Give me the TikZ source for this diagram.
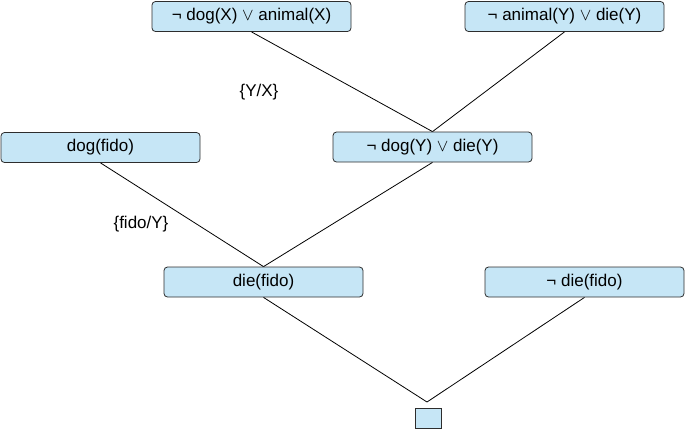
\documentclass[tikz,border=0pt]{standalone}
\usepackage{fontspec}
\setmainfont{Liberation Sans}
\definecolor{boxfill}{RGB}{198,230,246}
\definecolor{boxline}{RGB}{45,45,45}
\begin{document}
\begin{tikzpicture}[x=1pt,y=-1pt,
  clause/.style={draw=boxline,fill=boxfill,rounded corners=3.5pt,line width=0.8pt,
    minimum width=199pt,minimum height=30pt,inner sep=0pt,font=\fontsize{17}{19}\selectfont},
  empty/.style={draw=boxline,fill=boxfill,line width=0.8pt,minimum width=26pt,minimum height=20pt,inner sep=0pt},
  edge/.style={draw=black,line width=0.8pt},
  subst/.style={font=\fontsize{17}{19}\selectfont,inner sep=0pt}]
\useasboundingbox (0,0) rectangle (685,429);
\node[clause] (n1) at (251.5,16.5) {¬ dog(X) $\vee$ animal(X)};
\node[clause] (n2) at (564.5,16.5) {¬ animal(Y) $\vee$ die(Y)};
\node[clause] (n3) at (100.5,147.5) {dog(fido)};
\node[clause] (n4) at (432.5,147) {¬ dog(Y) $\vee$ die(Y)};
\node[clause] (n5) at (263.5,282) {die(fido)};
\node[clause] (n6) at (584.5,282) {¬ die(fido)};
\node[empty] (sq) at (428,418) {};
\coordinate (apex) at (427,402);
\node[subst] (s1) at (259,92) {\{Y/X\}};
\node[subst] (s2) at (141,224) {\{fido/Y\}};
\draw[edge] (n1.south) -- (n4.north);
\draw[edge] (n2.south) -- (n4.north);
\draw[edge] (n3.south) -- (n5.north);
\draw[edge] (n4.south) -- (n5.north);
\draw[edge] (n5.south) -- (apex);
\draw[edge] (n6.south) -- (apex);
\end{tikzpicture}
\end{document}
